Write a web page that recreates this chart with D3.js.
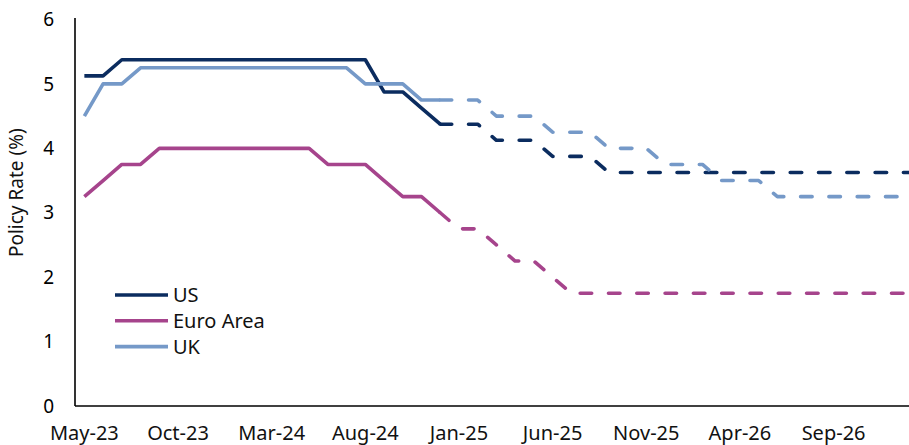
<!DOCTYPE html>
<html>
<head>
<meta charset="utf-8">
<script src="https://cdn.jsdelivr.net/npm/d3@7"></script>
<style>
  html, body { margin: 0; padding: 0; background: #fff; }
  svg { display: block; font-family: 'Noto Sans', sans-serif; }
</style>
</head>
<body>
<svg id="chart"></svg>
<script>
const width = 909
const height = 445

// monthly categories, May-23 .. Jan-27
const months = [
  'May-23', 'Jun-23', 'Jul-23', 'Aug-23', 'Sep-23', 'Oct-23', 'Nov-23', 'Dec-23',
  'Jan-24', 'Feb-24', 'Mar-24', 'Apr-24', 'May-24', 'Jun-24', 'Jul-24', 'Aug-24',
  'Sep-24', 'Oct-24', 'Nov-24', 'Dec-24', 'Jan-25', 'Feb-25', 'Mar-25', 'Apr-25',
  'May-25', 'Jun-25', 'Jul-25', 'Aug-25', 'Sep-25', 'Oct-25', 'Nov-25', 'Dec-25',
  'Jan-26', 'Feb-26', 'Mar-26', 'Apr-26', 'May-26', 'Jun-26', 'Jul-26', 'Aug-26',
  'Sep-26', 'Oct-26', 'Nov-26', 'Dec-26', 'Jan-27',
]
const tickLabels = ['May-23', 'Oct-23', 'Mar-24', 'Aug-24', 'Jan-25', 'Jun-25', 'Nov-25', 'Apr-26', 'Sep-26']
const yTicks = [0, 1, 2, 3, 4, 5, 6]

// actuals: May-23 .. Dec-24
const usActual = [5.125, 5.125, 5.375, 5.375, 5.375, 5.375, 5.375, 5.375, 5.375, 5.375,
  5.375, 5.375, 5.375, 5.375, 5.375, 5.375, 4.875, 4.875, 4.625, 4.375]
const euroActual = [3.25, 3.5, 3.75, 3.75, 4.0, 4.0, 4.0, 4.0, 4.0, 4.0,
  4.0, 4.0, 4.0, 3.75, 3.75, 3.75, 3.5, 3.25, 3.25, 3.0]
const ukActual = [4.5, 5.0, 5.0, 5.25, 5.25, 5.25, 5.25, 5.25, 5.25, 5.25,
  5.25, 5.25, 5.25, 5.25, 5.25, 5.0, 5.0, 5.0, 4.75, 4.75]

// projections: Dec-24 .. Jan-27
const usForecast = [4.375, 4.375, 4.375, 4.125, 4.125, 4.125, 3.875, 3.875, 3.875,
  3.625, 3.625, 3.625, 3.625, 3.625, 3.625, 3.625, 3.625, 3.625, 3.625, 3.625,
  3.625, 3.625, 3.625, 3.625, 3.625, 3.625]
const euroForecast = [3.0, 2.75, 2.75, 2.5, 2.25, 2.25, 2.0, 1.75, 1.75,
  1.75, 1.75, 1.75, 1.75, 1.75, 1.75, 1.75, 1.75, 1.75, 1.75, 1.75,
  1.75, 1.75, 1.75, 1.75, 1.75, 1.75]
const ukForecast = [4.75, 4.75, 4.75, 4.5, 4.5, 4.5, 4.25, 4.25, 4.25,
  4.0, 4.0, 4.0, 3.75, 3.75, 3.75, 3.5, 3.5, 3.5, 3.25, 3.25,
  3.25, 3.25, 3.25, 3.25, 3.25, 3.25]

const forecastStart = months.indexOf('Dec-24')

const series = [
  { name: 'US', color: '#0b2c5f', actual: usActual, forecast: usForecast },
  { name: 'Euro Area', color: '#a6448c', actual: euroActual, forecast: euroForecast },
  { name: 'UK', color: '#7599c8', actual: ukActual, forecast: ukForecast },
]

const plot = { left: 75, top: 19.5, bottom: 406 }
const step = 18.73

const svg = d3.select('#chart').attr('width', width).attr('height', height)

const x = d3
  .scaleBand()
  .domain(months)
  .range([plot.left, plot.left + step * months.length])
  .padding(0)

const cx = (m) => x(m) + x.bandwidth() / 2

const y = d3.scaleLinear().domain([0, 6]).range([plot.bottom, plot.top])

// y axis: line + labels only
const yAxis = d3.axisLeft(y).tickValues(yTicks).tickSize(0).tickPadding(21).tickFormat(d3.format('d'))
svg
  .append('g')
  .attr('transform', `translate(${plot.left},0)`)
  .call(yAxis)
  .call((g) => g.select('.domain').attr('stroke', '#000').attr('stroke-width', 1.6).attr('d', `M0,${plot.top - 1.5}V${plot.bottom}`))
  .call((g) => g.selectAll('text').attr('font-size', 19).attr('fill', '#000').attr('font-family', 'Noto Sans'))

// x axis
const xAxis = d3
  .axisBottom(x)
  .tickValues(tickLabels)
  .tickSize(0)
  .tickPadding(20)
svg
  .append('g')
  .attr('transform', `translate(0,${plot.bottom})`)
  .call(xAxis)
  .call((g) => g.select('.domain').attr('stroke', '#000').attr('stroke-width', 1.6).attr('d', `M${plot.left},0H${width}`))
  .call((g) => g.selectAll('text').attr('font-size', 20).attr('fill', '#111').attr('font-family', 'Noto Sans'))

svg
  .append('text')
  .attr('transform', `translate(23,${(plot.top + plot.bottom) / 2 - 20}) rotate(-90)`)
  .attr('text-anchor', 'middle')
  .attr('font-size', 19)
  .attr('fill', '#111')
  .text('Policy Rate (%)')

const line = d3
  .line()
  .x((d) => cx(d.m))
  .y((d) => y(d.v))

const lines = svg.append('g').attr('fill', 'none').attr('stroke-width', 3.6)

series.forEach((s) => {
  const actual = s.actual.map((v, i) => ({ m: months[i], v }))
  const forecast = s.forecast.map((v, i) => ({ m: months[forecastStart + i], v }))

  lines
    .append('path')
    .datum(actual)
    .attr('stroke', s.color)
    .attr('stroke-linejoin', 'round')
    .attr('d', line)

  lines
    .append('path')
    .datum(forecast)
    .attr('stroke', s.color)
    .attr('stroke-linecap', 'round')
    .attr('stroke-linejoin', 'round')
    .attr('stroke-dasharray', '11.5,16.8')
    .attr('d', line)
})

// legend
const legend = svg.append('g').attr('transform', 'translate(115,295)')
const rowH = 25.8

legend
  .selectAll('line')
  .data(series)
  .enter()
  .append('line')
  .attr('x1', 0)
  .attr('x2', 53)
  .attr('y1', (d, i) => i * rowH)
  .attr('y2', (d, i) => i * rowH)
  .attr('stroke', (d) => d.color)
  .attr('stroke-width', 3.6)

legend
  .selectAll('text')
  .data(series)
  .enter()
  .append('text')
  .attr('x', 58)
  .attr('y', (d, i) => i * rowH)
  .attr('dy', '0.35em')
  .attr('font-size', 20)
  .attr('fill', '#111')
  .text((d) => d.name)
</script>
</body>
</html>
